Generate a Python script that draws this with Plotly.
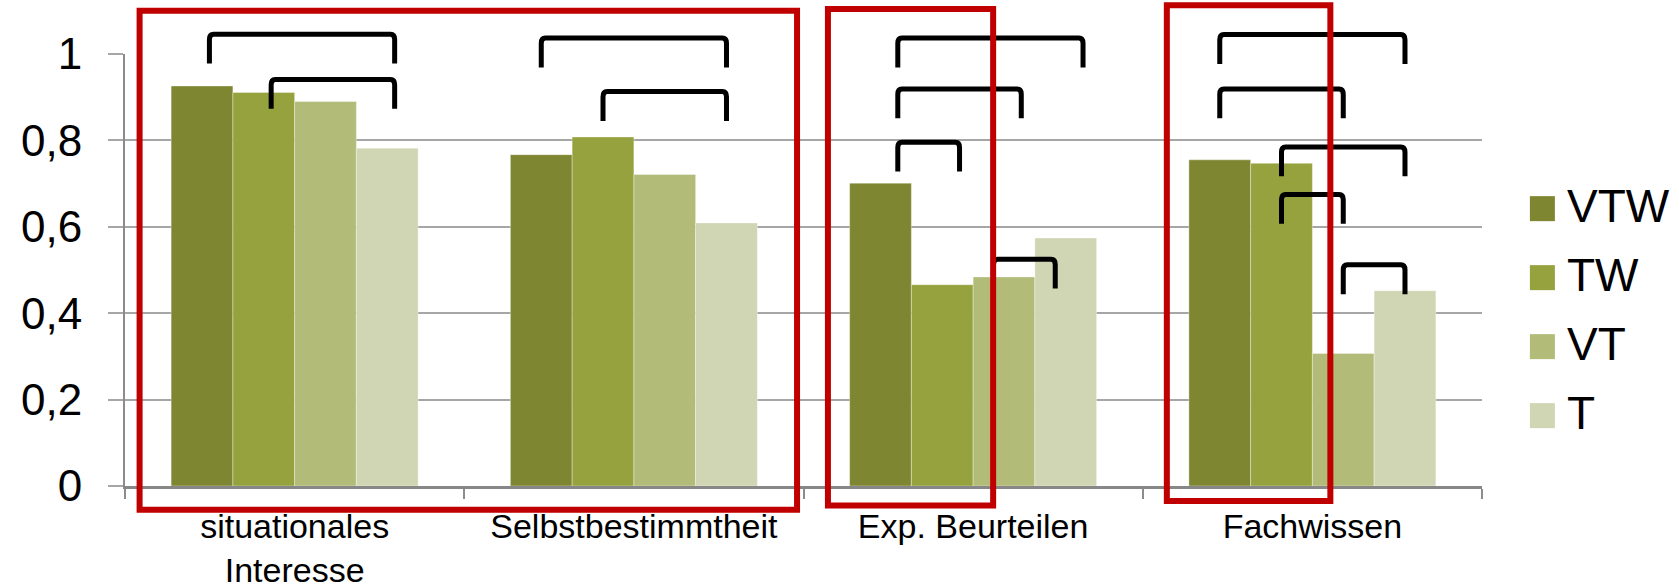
import plotly.graph_objects as go

# Categories and series values
categories = ["situationales<br>Interesse", "Selbstbestimmtheit", "Exp. Beurteilen", "Fachwissen"]
series_names = ["VTW", "TW", "VT", "T"]
vtw = [0.926, 0.767, 0.701, 0.755]
tw = [0.911, 0.808, 0.466, 0.747]
vt = [0.890, 0.721, 0.484, 0.307]
t = [0.782, 0.609, 0.574, 0.452]
series_values = [vtw, tw, vt, t]
series_colors = ["#7F8631", "#96A23D", "#B2BC78", "#D0D6B3"]
y_ticks = [0, 0.2, 0.4, 0.6, 0.8, 1]

# Significance brackets: (category, first series, second series, height, shift in bar widths)
brackets = [
    (0, 0, 3, 1.046, 0.12),
    (0, 1, 3, 0.941, 0.12),
    (1, 0, 3, 1.037, 0.0),
    (1, 1, 3, 0.913, 0.0),
    (2, 0, 3, 1.037, 0.28),
    (2, 0, 2, 0.919, 0.28),
    (2, 0, 1, 0.796, 0.28),
    (2, 2, 3, 0.525, -0.17),
    (3, 0, 3, 1.045, 0.0),
    (3, 0, 2, 0.919, 0.0),
    (3, 1, 3, 0.785, 0.0),
    (3, 1, 2, 0.675, 0.0),
    (3, 2, 3, 0.512, 0.0),
]

# Highlight frames around category groups: (x from, x to, y bottom, y top)
frames = [
    (-0.457, 1.481, -0.055, 1.100),
    (1.572, 2.059, -0.045, 1.104),
    (2.571, 3.053, -0.035, 1.113),
]

FONT = "Arial, Liberation Sans, sans-serif"
BARGAP = 0.272
n_series = len(series_names)
bar_w = (1 - BARGAP) / n_series
xpos = list(range(len(categories)))

fig = go.Figure()
for name, vals, col in zip(series_names, series_values, series_colors):
    fig.add_trace(go.Bar(
        x=xpos, y=vals, name=name,
        marker=dict(color=col, line=dict(color="rgba(255,255,255,0.35)", width=1)),
        showlegend=False,
    ))


def bar_center(cat, s):
    return cat + (s - (n_series - 1) / 2) * bar_w


shapes = []
LEG = 0.068
RX, RY = 0.012, 0.012
for cat, a, b, top, shift in brackets:
    x1 = bar_center(cat, a) + shift * bar_w
    x2 = bar_center(cat, b) + shift * bar_w
    low = top - LEG
    path = (f"M {x1},{low} L {x1},{top - RY} Q {x1},{top} {x1 + RX},{top} "
            f"L {x2 - RX},{top} Q {x2},{top} {x2},{top - RY} L {x2},{low}")
    shapes.append(dict(type="path", path=path, xref="x", yref="paper",
                       line=dict(color="black", width=5), layer="above"))

for x0, x1, y0, y1 in frames:
    shapes.append(dict(type="rect", xref="x", yref="paper", x0=x0, x1=x1, y0=y0, y1=y1,
                       line=dict(color="#C00000", width=6), fillcolor="rgba(0,0,0,0)",
                       layer="above"))

# Legend drawn as swatches and labels on the right
annotations = []
LEG_X = 1.0445
LEG_Y0 = 0.642
LEG_STEP = 0.1597
for i, (name, col) in enumerate(zip(series_names, series_colors)):
    yc = LEG_Y0 - i * LEG_STEP
    shapes.append(dict(type="rect", xref="paper", yref="paper",
                       xsizemode="pixel", ysizemode="pixel",
                       xanchor=LEG_X, yanchor=yc, x0=-12.5, x1=12.5, y0=-12.5, y1=12.5,
                       fillcolor=col, line=dict(width=0)))
    annotations.append(dict(text=name, xref="paper", yref="paper", x=1.0612, y=yc + 0.007,
                            xanchor="left", yanchor="middle", showarrow=False,
                            font=dict(family=FONT, size=46, color="black")))

fig.update_layout(
    width=1679, height=588,
    margin=dict(l=125, r=197, t=54, b=102),
    paper_bgcolor="white", plot_bgcolor="white",
    barmode="group", bargap=BARGAP, bargroupgap=0,
    separators=",.",
    font=dict(family=FONT, color="black"),
    shapes=shapes, annotations=annotations,
    showlegend=False,
)
fig.update_xaxes(
    range=[-0.5, 3.5], tickmode="array", tickvals=xpos, ticktext=categories,
    ticks="", tickfont=dict(size=34, family=FONT, color="black"),
    showline=True, linecolor="#878787", linewidth=3,
    showgrid=False, zeroline=False, ticklabelstandoff=8, automargin=False,
    minor=dict(tickmode="linear", tick0=-0.5, dtick=1, ticks="outside",
               ticklen=10, tickwidth=2, tickcolor="#8C8C8C", showgrid=False),
)
fig.update_yaxes(
    range=[0, 1], tickmode="array", tickvals=y_ticks,
    tickfont=dict(size=44, family=FONT, color="black"),
    showgrid=True, gridcolor="#A6A6A6", gridwidth=2,
    zeroline=False, automargin=False,
    showline=True, linecolor="#8C8C8C", linewidth=2,
    ticks="outside", ticklen=15, tickwidth=2, tickcolor="#A6A6A6",
    ticklabelstandoff=17,
)

fig.write_html("out.html")
